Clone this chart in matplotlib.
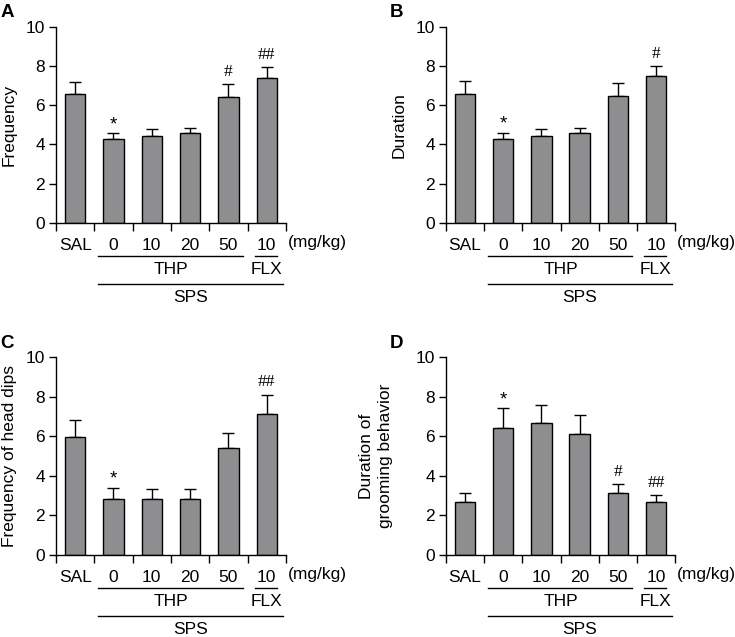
import numpy as np
import matplotlib
matplotlib.use("Agg")
import matplotlib.pyplot as plt

plt.rcParams['font.family'] = ['Liberation Sans', 'DejaVu Sans']

groups = ["SAL", "0", "10", "20", "50", "10"]

# means and upper error (SEM)
freq_mean = [6.55, 4.27, 4.44, 4.56, 6.39, 7.40]
freq_err = [0.63, 0.29, 0.32, 0.29, 0.67, 0.56]
freq_sig = ["", "*", "", "", "#", "##"]

dur_mean = [6.58, 4.29, 4.44, 4.56, 6.45, 7.47]
dur_err = [0.63, 0.30, 0.36, 0.29, 0.68, 0.54]
dur_sig = ["", "*", "", "", "", "#"]

dips_mean = [5.97, 2.84, 2.84, 2.84, 5.41, 7.11]
dips_err = [0.87, 0.56, 0.46, 0.46, 0.75, 1.01]
dips_sig = ["", "*", "", "", "", "##"]

groom_mean = [2.67, 6.40, 6.70, 6.11, 3.10, 2.67]
groom_err = [0.44, 1.03, 0.88, 0.95, 0.49, 0.36]
groom_sig = ["", "*", "", "", "#", "##"]

panels = [
    ("A", "Frequency", freq_mean, freq_err, freq_sig, [0.0762, 0.6504, 0.3128, 0.3076]),
    ("B", "Duration", dur_mean, dur_err, dur_sig, [0.6068, 0.6504, 0.3116, 0.3076]),
    ("C", "Frequency of head dips", dips_mean, dips_err, dips_sig, [0.0762, 0.1295, 0.3128, 0.3093]),
    ("D", "Duration of\ngrooming behavior", groom_mean, groom_err, groom_sig, [0.6068, 0.1295, 0.3116, 0.3093]),
]

fig = plt.figure(figsize=(7.35, 6.37), dpi=100)
fs = 12.5

for letter, ylab, mean, err, sig, rect in panels:
    ax = fig.add_axes(rect)
    x = np.arange(len(mean))
    ax.bar(x, mean, width=0.53, color="#8e8e90", edgecolor="black", linewidth=1.0, zorder=2)
    ax.errorbar(x, mean, yerr=[np.zeros(len(err)), err], fmt="none", ecolor="black",
                elinewidth=1.0, capsize=4, capthick=1.0, zorder=1)
    for xi, m, e, s in zip(x, mean, err, sig):
        if s == "*":
            ax.annotate(s, (xi, m + e), xytext=(0, 0), textcoords="offset points",
                        ha="center", va="bottom", fontsize=fs + 1)
        elif s:
            ax.annotate(s, (xi, m + e), xytext=(0, 3), textcoords="offset points",
                        ha="center", va="bottom", fontsize=fs, family="Liberation Serif")

    ax.set_xlim(-0.5, 5.5)
    ax.set_ylim(0, 10)
    ax.set_yticks(np.arange(0, 11, 2))
    ax.set_xticks(x)
    ax.set_xticklabels(groups)
    ax.set_xticks(np.arange(-0.5, 6, 1), minor=True)
    ax.tick_params(axis="x", which="major", length=0, pad=11, labelsize=fs)
    ax.tick_params(axis="x", which="minor", length=6, width=1.0, direction="out")
    ax.tick_params(axis="y", length=5, width=1.0, pad=3, labelsize=fs)
    for sp in ["top", "right"]:
        ax.spines[sp].set_visible(False)
    for sp in ["left", "bottom"]:
        ax.spines[sp].set_linewidth(1.0)
    ax.set_ylabel(ylab, fontsize=fs, linespacing=1.35)
    ax.yaxis.set_label_coords(-0.17 if "\n" not in ylab else -0.23, 0.5)

    tr = ax.get_xaxis_transform()
    ax.text(5.56, -0.102, "(mg/kg)", transform=tr, ha="left", va="center", fontsize=fs)
    ax.plot([0.6, 4.38], [-0.168, -0.168], color="black", lw=1.0, transform=tr, clip_on=False)
    ax.plot([4.69, 5.27], [-0.168, -0.168], color="black", lw=1.0, transform=tr, clip_on=False)
    ax.plot([0.6, 5.42], [-0.311, -0.311], color="black", lw=1.0, transform=tr, clip_on=False)
    ax.text(2.5, -0.240, "THP", transform=tr, ha="center", va="center", fontsize=fs)
    ax.text(5.0, -0.240, "FLX", transform=tr, ha="center", va="center", fontsize=fs)
    ax.text(3.0, -0.383, "SPS", transform=tr, ha="center", va="center", fontsize=fs)

    lx = rect[0] - 0.076
    ly = rect[1] + rect[3] + 0.035
    fig.text(lx, ly, letter, ha="left", va="top", fontsize=fs + 1, weight="bold")

fig.savefig("out.png", dpi=100)
